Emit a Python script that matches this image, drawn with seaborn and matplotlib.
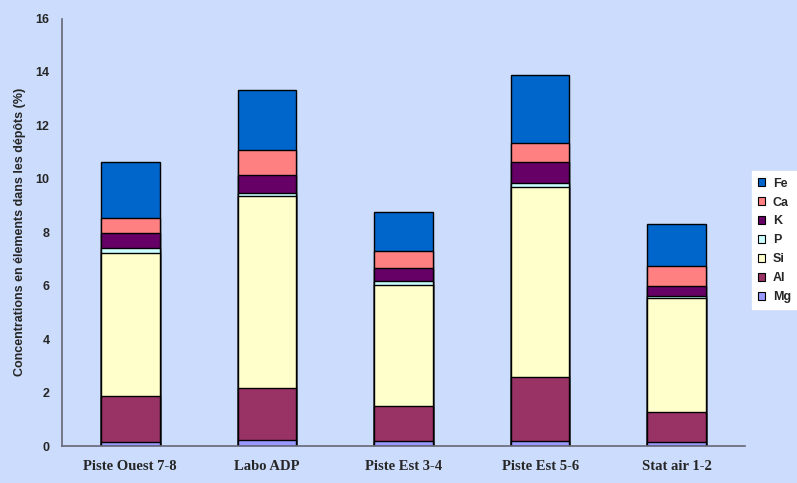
import matplotlib
matplotlib.use("Agg")
import matplotlib.pyplot as plt
from matplotlib.patches import Patch
import numpy as np
import pandas as pd
import seaborn as sns

sites = ["Piste Ouest 7-8", "Labo ADP", "Piste Est 3-4", "Piste Est 5-6", "Stat air 1-2"]
elements = ["Mg", "Al", "Si", "P", "K", "Ca", "Fe"]
mg = [0.14, 0.22, 0.17, 0.20, 0.16]
al = [1.74, 1.94, 1.33, 2.39, 1.12]
si = [5.36, 7.21, 4.51, 7.12, 4.25]
p = [0.16, 0.10, 0.15, 0.15, 0.08]
k = [0.56, 0.67, 0.49, 0.76, 0.39]
ca = [0.58, 0.93, 0.64, 0.71, 0.74]
fe = [2.10, 2.25, 1.48, 2.55, 1.56]
colors = {"Mg": "#9999FF", "Al": "#993366", "Si": "#FFFFCC", "P": "#CCFFFF",
          "K": "#660066", "Ca": "#FF8080", "Fe": "#0066CC"}
bg = "#CCDCFC"

df = pd.DataFrame(dict(zip(elements, [mg, al, si, p, k, ca, fe])), index=sites)
cum = df.cumsum(axis=1)

sns.set_theme(style="white")
plt.rcParams["font.family"] = ["Liberation Sans", "DejaVu Sans"]

fig = plt.figure(figsize=(7.97, 4.83), dpi=100, facecolor=bg)
ax = fig.add_axes([0.0778, 0.0766, 0.857, 0.885])
ax.set_facecolor(bg)

# draw from the tallest cumulative layer down so each segment shows
for el in elements[::-1]:
    d = pd.DataFrame({"site": sites, "val": cum[el].values})
    sns.barplot(data=d, x="site", y="val", color=colors[el], width=0.43,
                edgecolor="black", linewidth=1.0, saturation=1, ax=ax)

ax.set_xlim(-0.5, 4.5)
ax.set_ylim(0, 16)
ax.set_yticks(np.arange(0, 17, 2))
ax.tick_params(axis="y", which="major", direction="out", length=5, width=1,
               color="#555555", labelsize=9, pad=4)
for t in ax.get_yticklabels():
    t.set_fontweight("bold")
ax.set_xticks(range(len(sites)))
ax.set_xticklabels(sites, fontfamily=["Liberation Serif"], fontweight="bold", fontsize=10.5)
ax.set_xticks(np.arange(-0.5, 5, 1), minor=True)
ax.tick_params(axis="x", which="major", length=0, pad=10)
ax.tick_params(axis="x", which="minor", direction="out", length=5, width=1, color="#555555")
ax.set_xlabel("")
ax.set_ylabel("Concentrations en élements dans les dépôts (%)", fontsize=9,
              fontweight="bold", labelpad=7)
for s in ["top", "right"]:
    ax.spines[s].set_visible(False)
for s in ["left", "bottom"]:
    ax.spines[s].set_color("#666677")
    ax.spines[s].set_linewidth(1.2)

handles = [Patch(facecolor=colors[el], edgecolor="black", linewidth=0.8, label=el)
           for el in elements[::-1]]
leg = fig.legend(handles=handles, loc="upper left", bbox_to_anchor=(0.943, 0.645),
                 frameon=True, fancybox=False, edgecolor="white", facecolor="white",
                 framealpha=1, prop={"weight": "bold", "size": 9},
                 handlelength=0.6, handleheight=0.6, handletextpad=0.6,
                 labelspacing=0.55, borderpad=0.5, borderaxespad=0)

fig.savefig("out.png", dpi=100, facecolor=bg)
